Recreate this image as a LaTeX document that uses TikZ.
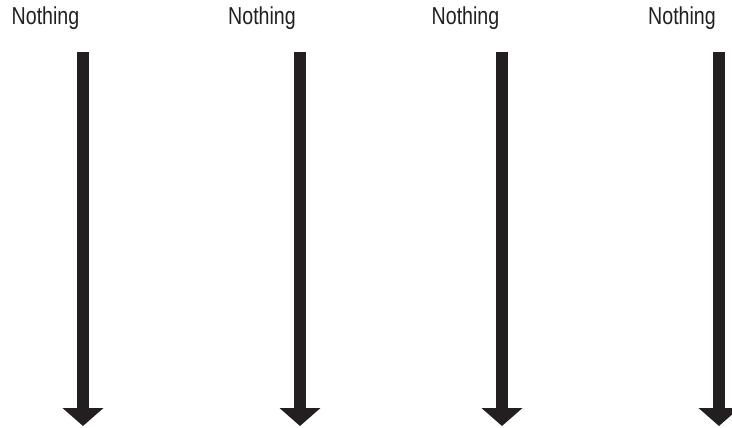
\documentclass[tikz,border=0pt]{standalone}
\usepackage{fontspec}
\newfontfamily\narrowsans[FakeStretch=0.8]{Liberation Sans}
\usepackage{tikz}
\usetikzlibrary{arrows.meta,positioning,calc}

\definecolor{inkdark}{HTML}{231F20}

\tikzset{
  label/.style={font=\narrowsans\fontsize{24.5}{28}\selectfont, text=inkdark, inner sep=0pt, anchor=base},
  downarrow/.style={draw=inkdark, line width=12.5pt, -{Triangle[width=40pt,length=18pt]}}
}

\begin{document}
\begin{tikzpicture}[x=1pt,y=-1pt]
\useasboundingbox (0,0) rectangle (732,428);

\node[label] (n1) at (45.5,25) {Nothing};
\node[label] (n2) at (262,25) {Nothing};
\node[label] (n3) at (465.5,25) {Nothing};
\node[label] (n4) at (682,25) {Nothing};

\coordinate (a1) at (83,52);
\coordinate (b1) at (83,426);
\coordinate (a2) at (300,52);
\coordinate (b2) at (300,426);
\coordinate (a3) at (502,52);
\coordinate (b3) at (502,426);
\coordinate (a4) at (719,52);
\coordinate (b4) at (719,426);

\draw[downarrow] (a1) -- (b1);
\draw[downarrow] (a2) -- (b2);
\draw[downarrow] (a3) -- (b3);
\draw[downarrow] (a4) -- (b4);
\end{tikzpicture}
\end{document}
